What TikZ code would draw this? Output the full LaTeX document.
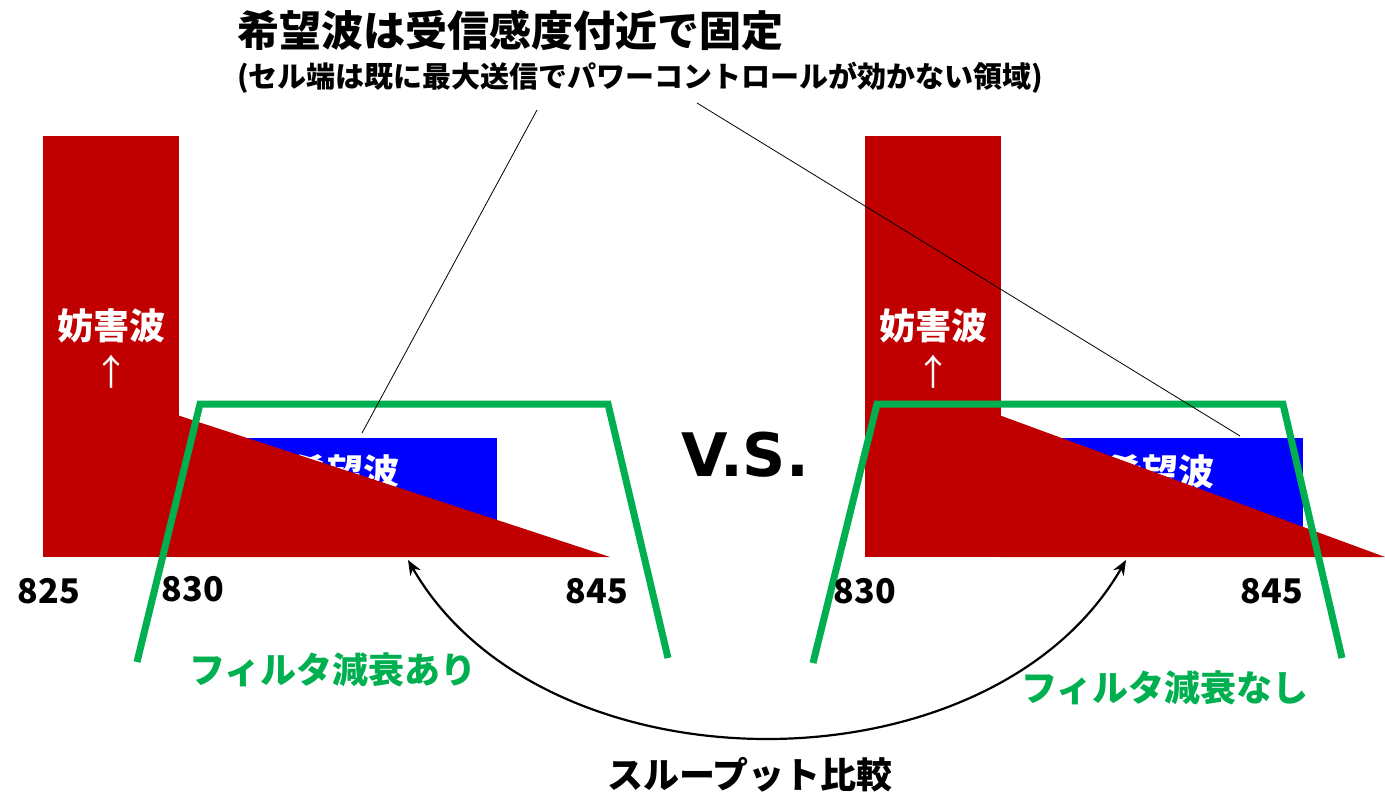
\documentclass[tikz,border=0pt]{standalone}
\usepackage{fontspec}
\newfontfamily\jp{Noto Sans CJK JP}
\newfontfamily\dv{DejaVu Sans}
\usetikzlibrary{arrows.meta}
\definecolor{myred}{HTML}{C00000}
\definecolor{myblue}{HTML}{0000FF}
\definecolor{mygreen}{HTML}{00B050}
\tikzset{
  jptext/.style={inner sep=0pt, font=\jp\bfseries\fontsize{#1}{#1}\selectfont},
  jptext/.default=36,
  numlabel/.style={jptext=34, text=black},
  filterline/.style={draw=mygreen, line width=7pt, miter limit=20},
  leader/.style={draw=black, line width=0.8pt},
  sig/.style={fill=myred, draw=none},
}
\begin{document}
\begin{tikzpicture}[x=1pt,y=-1pt]
\useasboundingbox (0,0) rectangle (1385,797);
\fill[white] (0,0) rectangle (1385,797);

% desired-signal boxes
\fill[myblue] (185,438) rectangle (497,557);
\node[jptext, text=white] (wantL) at (345,472) {希望波};
\fill[myblue] (1005,438) rectangle (1303,557);
\node[jptext, text=white] (wantR) at (1160,472) {希望波};

% interference
\fill[sig] (43,136) rectangle (179,557);
\fill[sig] (177,415) -- (610,557) -- (177,557) -- cycle;
\node[jptext, text=white] (intL) at (111,326) {妨害波};
\node[jptext, text=white, font=\jp\fontsize{36}{36}\selectfont] (arrL) at (111,372) {↑};

\fill[sig] (865,136) rectangle (1001,557);
\fill[sig] (999,415) -- (1385,557) -- (999,557) -- cycle;
\node[jptext, text=white] (intR) at (933,326) {妨害波};
\node[jptext, text=white, font=\jp\fontsize{36}{36}\selectfont] (arrR) at (933,372) {↑};

% filters
\draw[filterline] (137,662) -- (200,404) -- (608,404) -- (668,658);
\draw[filterline] (813,663) -- (877,404) -- (1283,404) -- (1342,658);

% title
\node[jptext=42, anchor=west] (title) at (237,30) {希望波は受信感度付近で固定};
\node[jptext=29, anchor=west] (subtitle) at (237,78) {(セル端は既に最大送信でパワーコントロールが効かない領域)};

% leaders
\coordinate (l1s) at (537,110);
\coordinate (l1e) at (362,433);
\coordinate (l2s) at (697,103);
\coordinate (l2e) at (1240,436);
\draw[leader] (l1s) -- (l1e);
\draw[leader] (l2s) -- (l2e);

% frequency labels
\node[numlabel] (f825) at (49,591) {825};
\node[numlabel] (f830L) at (193,589) {830};
\node[numlabel] (f845L) at (597,591) {845};
\node[numlabel] (f830R) at (865,591) {830};
\node[numlabel] (f845R) at (1272,591) {845};

% vs
\node[inner sep=0pt, font=\dv\bfseries\fontsize{60}{60}\selectfont] (vs) at (745,455) {V.S.};

% filter labels
\node[jptext, text=mygreen] (fl1) at (333,670) {フィルタ減衰あり};
\node[jptext, text=mygreen] (fl2) at (1165,688) {フィルタ減衰なし};

% throughput comparison
\coordinate (cmpL) at (408,560);
\coordinate (cmpR) at (1126,560);
\draw[line width=2.2pt, {Stealth[length=15pt,width=12pt]}-{Stealth[length=15pt,width=12pt]}]
  (cmpL) .. controls (544,796) and (990,796) .. (cmpR);
\node[jptext, text=black] (cmp) at (750,775) {スループット比較};
\end{tikzpicture}
\end{document}
